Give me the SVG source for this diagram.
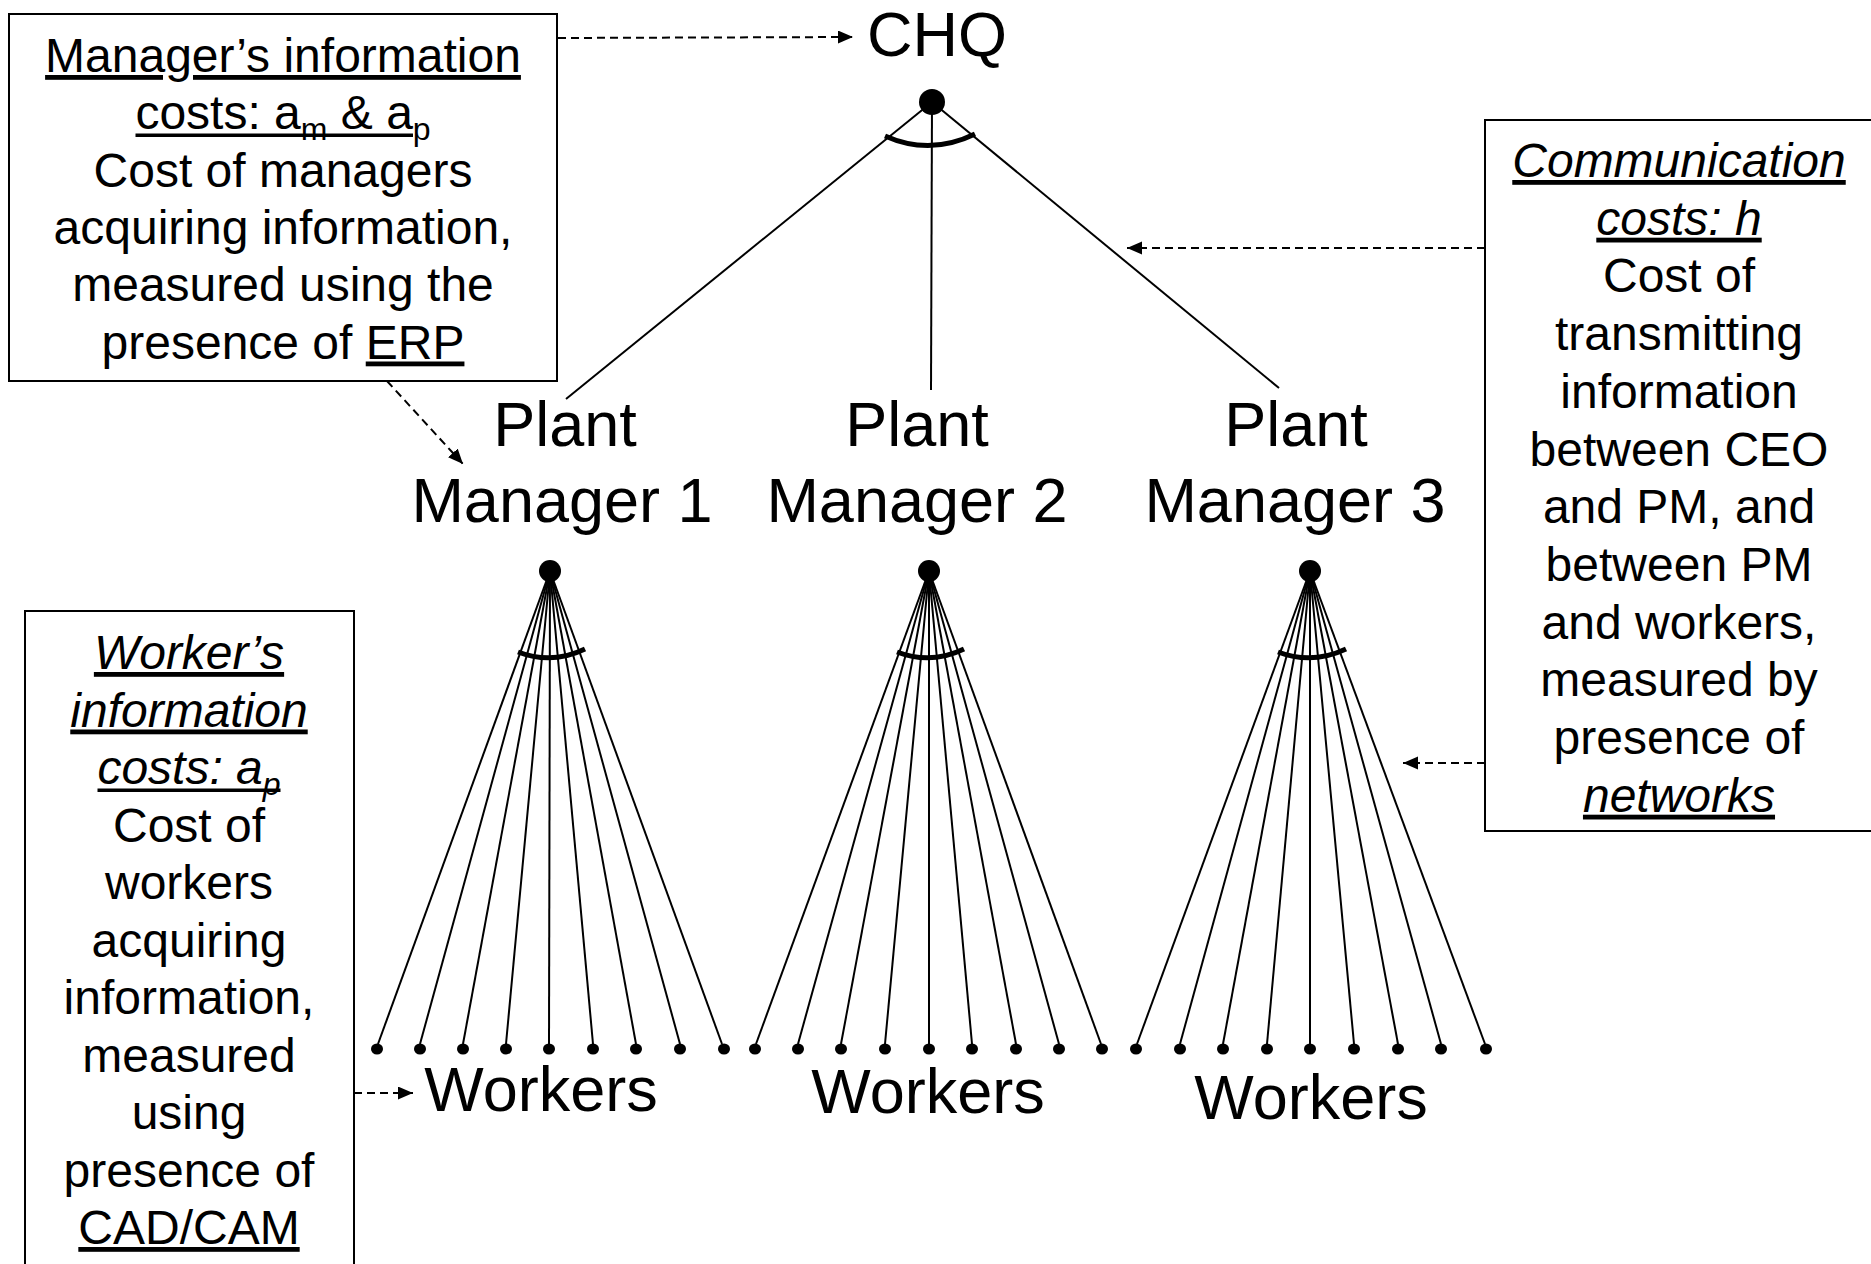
<svg xmlns="http://www.w3.org/2000/svg" width="1871" height="1264" viewBox="0 0 1871 1264">
<style>
  text { font-family: "Liberation Sans", Arial, sans-serif; fill: #000; text-anchor: middle; }
  .b { font-size: 48px; }
  .big { font-size: 63px; }
  .i { font-style: italic; }
  .u { text-decoration: underline; }
  .box { fill: #fff; stroke: #000; stroke-width: 2; }
  .ln { stroke: #000; stroke-width: 2; fill: none; }
  .arc { stroke: #000; stroke-width: 5; fill: none; }
  .dash { stroke: #000; stroke-width: 2; fill: none; stroke-dasharray: 8 5; }
  .ul { fill: #000; }
</style>
<defs>
  <marker id="ah" markerUnits="userSpaceOnUse" markerWidth="16" markerHeight="14" refX="15" refY="6.5" orient="auto">
    <path d="M0,0 L15,6.5 L0,13 z" fill="#000"/>
  </marker>
</defs>

<g id="connectors">
  <line class="ln" x1="932" y1="102" x2="566" y2="399"/>
  <line class="ln" x1="932" y1="102" x2="931" y2="390"/>
  <line class="ln" x1="932" y1="102" x2="1279" y2="388"/>
  <path class="arc" d="M885,136 Q930,156 975,134"/>

  <g id="fan1">
    <line class="ln" x1="550" y1="571" x2="378" y2="1044"/>
    <line class="ln" x1="550" y1="571" x2="420" y2="1044"/>
    <line class="ln" x1="550" y1="571" x2="463" y2="1044"/>
    <line class="ln" x1="550" y1="571" x2="506" y2="1044"/>
    <line class="ln" x1="550" y1="571" x2="549" y2="1044"/>
    <line class="ln" x1="550" y1="571" x2="593" y2="1044"/>
    <line class="ln" x1="550" y1="571" x2="636" y2="1044"/>
    <line class="ln" x1="550" y1="571" x2="680" y2="1044"/>
    <line class="ln" x1="550" y1="571" x2="722" y2="1044"/>
    <path class="arc" d="M518,652 Q552,665 585,649"/>
  </g>
  <g id="fan2">
    <line class="ln" x1="929" y1="571" x2="756" y2="1044"/>
    <line class="ln" x1="929" y1="571" x2="798" y2="1044"/>
    <line class="ln" x1="929" y1="571" x2="841" y2="1044"/>
    <line class="ln" x1="929" y1="571" x2="885" y2="1044"/>
    <line class="ln" x1="929" y1="571" x2="929" y2="1044"/>
    <line class="ln" x1="929" y1="571" x2="972" y2="1044"/>
    <line class="ln" x1="929" y1="571" x2="1016" y2="1044"/>
    <line class="ln" x1="929" y1="571" x2="1059" y2="1044"/>
    <line class="ln" x1="929" y1="571" x2="1101" y2="1044"/>
    <path class="arc" d="M897,652 Q931,665 964,649"/>
  </g>
  <g id="fan3">
    <line class="ln" x1="1310" y1="571" x2="1137" y2="1044"/>
    <line class="ln" x1="1310" y1="571" x2="1180" y2="1044"/>
    <line class="ln" x1="1310" y1="571" x2="1223" y2="1044"/>
    <line class="ln" x1="1310" y1="571" x2="1267" y2="1044"/>
    <line class="ln" x1="1310" y1="571" x2="1310" y2="1044"/>
    <line class="ln" x1="1310" y1="571" x2="1354" y2="1044"/>
    <line class="ln" x1="1310" y1="571" x2="1398" y2="1044"/>
    <line class="ln" x1="1310" y1="571" x2="1441" y2="1044"/>
    <line class="ln" x1="1310" y1="571" x2="1485" y2="1044"/>
    <path class="arc" d="M1278,652 Q1312,665 1346,649"/>
  </g>

  <line class="dash" x1="558" y1="38" x2="853" y2="37" marker-end="url(#ah)"/>
  <line class="dash" x1="1485" y1="248" x2="1127" y2="248" marker-end="url(#ah)"/>
  <line class="dash" x1="1485" y1="763" x2="1403" y2="763" marker-end="url(#ah)"/>
  <line class="dash" x1="387" y1="381" x2="463" y2="464" marker-end="url(#ah)"/>
  <line class="dash" x1="354" y1="1093" x2="413" y2="1093" marker-end="url(#ah)"/>
</g>

<g id="chq">
  <text class="big" x="937" y="56">CHQ</text>
  <circle cx="932" cy="102" r="13"/>
</g>

<g id="pm1">
  <text class="big" x="565" y="446">Plant</text>
  <text class="big" x="562" y="522">Manager 1</text>
  <circle cx="550" cy="571" r="11"/>
</g>
<g id="pm2">
  <text class="big" x="917" y="446">Plant</text>
  <text class="big" x="917" y="522">Manager 2</text>
  <circle cx="929" cy="571" r="11"/>
</g>
<g id="pm3">
  <text class="big" x="1296" y="446">Plant</text>
  <text class="big" x="1295" y="522">Manager 3</text>
  <circle cx="1310" cy="571" r="11"/>
</g>

<g id="workers1">
  <ellipse cx="377" cy="1049" rx="6" ry="5.5"/>
  <ellipse cx="420" cy="1049" rx="6" ry="5.5"/>
  <ellipse cx="463" cy="1049" rx="6" ry="5.5"/>
  <ellipse cx="506" cy="1049" rx="6" ry="5.5"/>
  <ellipse cx="549" cy="1049" rx="6" ry="5.5"/>
  <ellipse cx="593" cy="1049" rx="6" ry="5.5"/>
  <ellipse cx="636" cy="1049" rx="6" ry="5.5"/>
  <ellipse cx="680" cy="1049" rx="6" ry="5.5"/>
  <ellipse cx="724" cy="1049" rx="6" ry="5.5"/>
  <text class="big" x="541" y="1111">Workers</text>
</g>
<g id="workers2">
  <ellipse cx="755" cy="1049" rx="6" ry="5.5"/>
  <ellipse cx="798" cy="1049" rx="6" ry="5.5"/>
  <ellipse cx="841" cy="1049" rx="6" ry="5.5"/>
  <ellipse cx="885" cy="1049" rx="6" ry="5.5"/>
  <ellipse cx="929" cy="1049" rx="6" ry="5.5"/>
  <ellipse cx="972" cy="1049" rx="6" ry="5.5"/>
  <ellipse cx="1016" cy="1049" rx="6" ry="5.5"/>
  <ellipse cx="1059" cy="1049" rx="6" ry="5.5"/>
  <ellipse cx="1102" cy="1049" rx="6" ry="5.5"/>
  <text class="big" x="928" y="1113">Workers</text>
</g>
<g id="workers3">
  <ellipse cx="1136" cy="1049" rx="6" ry="5.5"/>
  <ellipse cx="1180" cy="1049" rx="6" ry="5.5"/>
  <ellipse cx="1223" cy="1049" rx="6" ry="5.5"/>
  <ellipse cx="1267" cy="1049" rx="6" ry="5.5"/>
  <ellipse cx="1310" cy="1049" rx="6" ry="5.5"/>
  <ellipse cx="1354" cy="1049" rx="6" ry="5.5"/>
  <ellipse cx="1398" cy="1049" rx="6" ry="5.5"/>
  <ellipse cx="1441" cy="1049" rx="6" ry="5.5"/>
  <ellipse cx="1486" cy="1049" rx="6" ry="5.5"/>
  <text class="big" x="1311" y="1119">Workers</text>
</g>

<g id="manager-costs">
  <rect class="box" x="9" y="14" width="548" height="367"/>
  <text class="b u" x="283" y="72">Manager’s information</text>
  <text class="b" x="283" y="129.3">costs: a<tspan font-size="32" dy="11">m</tspan><tspan dy="-11"> &amp; a</tspan><tspan font-size="32" dy="11">p</tspan></text>
  <rect class="ul" x="135.5" y="133.5" width="277.5" height="3.5"/>
  <text class="b" x="283" y="186.6">Cost of managers</text>
  <text class="b" x="283" y="243.9">acquiring information,</text>
  <text class="b" x="283" y="301.2">measured using the</text>
  <text class="b" x="283" y="358.5">presence of <tspan class="u">ERP</tspan></text>
</g>

<g id="communication-costs">
  <rect class="box" x="1485" y="120" width="390" height="711"/>
  <text class="b i u" x="1679" y="177">Communication</text>
  <text class="b i u" x="1679" y="234.7">costs: h</text>
  <text class="b" x="1679" y="292.4">Cost of</text>
  <text class="b" x="1679" y="350.1">transmitting</text>
  <text class="b" x="1679" y="407.8">information</text>
  <text class="b" x="1679" y="465.5">between CEO</text>
  <text class="b" x="1679" y="523.2">and PM, and</text>
  <text class="b" x="1679" y="580.9">between PM</text>
  <text class="b" x="1679" y="638.6">and workers,</text>
  <text class="b" x="1679" y="696.3">measured by</text>
  <text class="b" x="1679" y="754">presence of</text>
  <text class="b i u" x="1679" y="811.7">networks</text>
</g>

<g id="worker-costs">
  <rect class="box" x="25" y="611" width="329" height="670"/>
  <text class="b i u" x="189" y="669">Worker’s</text>
  <text class="b i u" x="189" y="726.5">information</text>
  <text class="b i" x="189" y="784">costs: a<tspan font-size="32" dy="11">p</tspan></text>
  <rect class="ul" x="97.5" y="788.5" width="183" height="3.5"/>
  <text class="b" x="189" y="841.5">Cost of</text>
  <text class="b" x="189" y="899">workers</text>
  <text class="b" x="189" y="956.5">acquiring</text>
  <text class="b" x="189" y="1014">information,</text>
  <text class="b" x="189" y="1071.5">measured</text>
  <text class="b" x="189" y="1129">using</text>
  <text class="b" x="189" y="1186.5">presence of</text>
  <text class="b u" x="189" y="1244">CAD/CAM</text>
</g>
</svg>
